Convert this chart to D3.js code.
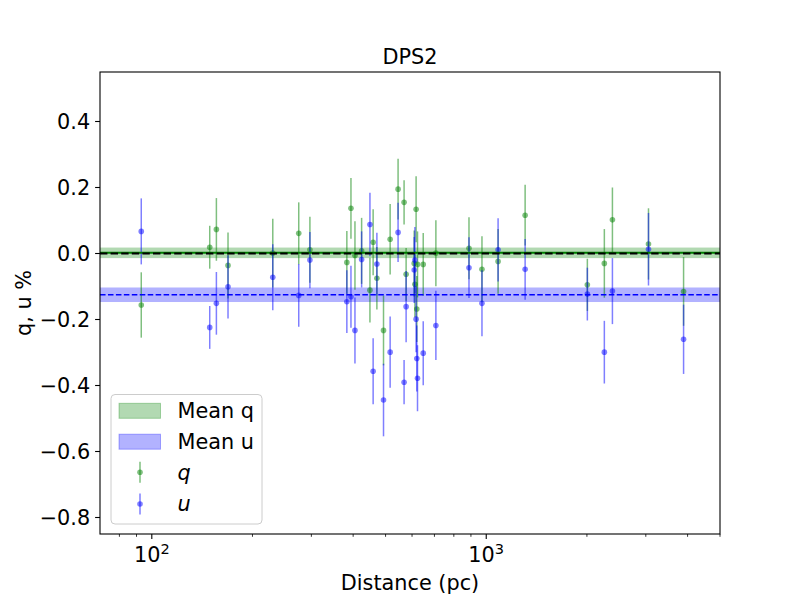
<!DOCTYPE html>
<html>
<head>
<meta charset="utf-8">
<script src="https://cdn.jsdelivr.net/npm/d3@7"></script>
<style>
  html, body { margin: 0; padding: 0; background: #fff; }
  svg text { font-family: "DejaVu Sans", sans-serif; }
</style>
</head>
<body>
<svg id="chart" width="800" height="600"></svg>
<script>
// ---- data ----
const distance = [93, 149, 156, 169, 230, 275, 297, 383, 394, 405, 424, 449, 459, 471, 493, 516, 545, 568, 576,
                  609, 612, 617, 620, 623, 648, 707, 888, 971, 1085, 1307, 2006, 2255, 2384, 3056, 3891];
const qValues = [-0.156, 0.019, 0.073, -0.036, 0.001, 0.061, 0.011, -0.027, 0.137, -0.006, 0.008, -0.111, 0.034, -0.075,
                 -0.233, 0.043, 0.195, 0.155, -0.063, -0.030, -0.093, 0.134, -0.168, -0.033, -0.033, 0.001, 0.016,
                 -0.048, -0.024, 0.116, -0.095, -0.030, 0.102, 0.029, -0.115];
const qErrors = [0.099, 0.065, 0.095, 0.100, 0.104, 0.094, 0.100, 0.095, 0.092, 0.104, 0.100, 0.098, 0.100, 0.095,
                 0.106, 0.107, 0.092, 0.067, 0.080, 0.100, 0.100, 0.100, 0.100, 0.100, 0.095, 0.100, 0.094,
                 0.100, 0.098, 0.092, 0.079, 0.104, 0.098, 0.108, 0.104];
const uValues = [0.067, -0.224, -0.151, -0.101, -0.072, -0.127, -0.020, -0.146, -0.131, -0.233, -0.018, 0.088, -0.357,
                 -0.032, -0.444, -0.299, 0.064, -0.390, -0.161, -0.050, -0.020, -0.199, -0.318, -0.378, -0.302, -0.218,
                 -0.043, -0.151, 0.011, -0.048, -0.123, -0.299, -0.114, 0.013, -0.260];
const uErrors = [0.100, 0.065, 0.095, 0.096, 0.100, 0.095, 0.085, 0.095, 0.094, 0.100, 0.085, 0.096, 0.100, 0.095,
                 0.110, 0.108, 0.090, 0.067, 0.108, 0.100, 0.100, 0.100, 0.100, 0.100, 0.097, 0.105, 0.092,
                 0.100, 0.096, 0.092, 0.080, 0.095, 0.100, 0.110, 0.105];
const meanQ = 0.002, meanQErr = 0.016;
const meanU = -0.125, meanUErr = 0.022;
const yTicks = [-0.8, -0.6, -0.4, -0.2, 0.0, 0.2, 0.4];
const xMajorTicks = [100, 1000];
const xMajorLabels = [["10", "2"], ["10", "3"]];
const xMinorTicks = [80, 90, 200, 300, 400, 500, 600, 700, 800, 900, 2000, 3000, 4000, 5000];
const legendLabels = ["Mean q", "Mean u", "q", "u"];
const titleText = "DPS2";
const xLabelText = "Distance (pc)";
const yLabelText = "q, u %";

// ---- layout ----
const L = 100, R = 720, T = 72, B = 534;
const FS = 20.8;
const svg = d3.select("#chart");
svg.append("rect").attr("width", 800).attr("height", 600).attr("fill", "#fff");

const x = d3.scaleLog().domain([70, 5000]).range([L, R]);
const y = d3.scaleLinear().domain([-0.85, 0.55]).range([B, T]);

const GREEN = "rgb(0,128,0)", BLUE = "rgb(0,0,255)";

const plot = svg.append("g");
plot.append("clipPath").attr("id", "clip").append("rect")
  .attr("x", L).attr("y", T).attr("width", R - L).attr("height", B - T);
const g = plot.append("g").attr("clip-path", "url(#clip)");

// bands
g.append("rect").attr("x", L).attr("width", R - L)
  .attr("y", y(meanQ + meanQErr)).attr("height", y(meanQ - meanQErr) - y(meanQ + meanQErr))
  .attr("fill", GREEN).attr("fill-opacity", 0.3);
g.append("rect").attr("x", L).attr("width", R - L)
  .attr("y", y(meanU + meanUErr)).attr("height", y(meanU - meanUErr) - y(meanU + meanUErr))
  .attr("fill", BLUE).attr("fill-opacity", 0.3);

// error bars
function drawSeries(vals, errs, color) {
  const s = g.append("g");
  distance.forEach((d, i) => {
    s.append("line").attr("x1", x(d)).attr("x2", x(d))
      .attr("y1", y(vals[i] - errs[i])).attr("y2", y(vals[i] + errs[i]))
      .attr("stroke", color).attr("stroke-opacity", 0.5).attr("stroke-width", 1.5);
    s.append("circle").attr("cx", x(d)).attr("cy", y(vals[i])).attr("r", 2.8)
      .attr("fill", color).attr("fill-opacity", 0.5);
  });
}
drawSeries(qValues, qErrors, GREEN);
drawSeries(uValues, uErrors, BLUE);

// mean lines
g.append("line").attr("x1", L).attr("x2", R).attr("y1", y(meanQ)).attr("y2", y(meanQ))
  .attr("stroke", GREEN).attr("stroke-width", 2);
g.append("line").attr("x1", L).attr("x2", R).attr("y1", y(0)).attr("y2", y(0))
  .attr("stroke", "#000").attr("stroke-width", 2).attr("stroke-dasharray", "7.4,3.2");
g.append("line").attr("x1", L).attr("x2", R).attr("y1", y(meanU)).attr("y2", y(meanU))
  .attr("stroke", BLUE).attr("stroke-width", 1.5).attr("stroke-dasharray", "5.55,2.4");

// frame
svg.append("rect").attr("x", L).attr("y", T).attr("width", R - L).attr("height", B - T)
  .attr("fill", "none").attr("stroke", "#000").attr("stroke-width", 1.1);

// y axis
const yAxis = svg.append("g");
yTicks.forEach(t => {
  yAxis.append("line").attr("x1", L - 4.9).attr("x2", L).attr("y1", y(t)).attr("y2", y(t))
    .attr("stroke", "#000").attr("stroke-width", 1.1);
  yAxis.append("text").attr("x", L - 9.8).attr("y", y(t)).attr("dy", "0.36em")
    .attr("text-anchor", "end").attr("font-size", FS)
    .text(d3.format(".1f")(t).replace("-", "\u2212"));
});

// x axis
const xAxis = svg.append("g");
xMajorTicks.forEach((t, i) => {
  xAxis.append("line").attr("x1", x(t)).attr("x2", x(t)).attr("y1", B).attr("y2", B + 4.9)
    .attr("stroke", "#000").attr("stroke-width", 1.1);
  const tx = xAxis.append("text").attr("x", x(t)).attr("y", B + 28).attr("text-anchor", "middle")
    .attr("font-size", FS);
  tx.append("tspan").text(xMajorLabels[i][0]);
  tx.append("tspan").attr("font-size", FS * 0.7).attr("dy", -8).text(xMajorLabels[i][1]);
});
xMinorTicks.forEach(t => {
  xAxis.append("line").attr("x1", x(t)).attr("x2", x(t)).attr("y1", B).attr("y2", B + 2.8)
    .attr("stroke", "#000").attr("stroke-width", 0.8);
});

// labels
svg.append("text").attr("x", (L + R) / 2).attr("y", 64).attr("text-anchor", "middle")
  .attr("font-size", FS).text(titleText);
svg.append("text").attr("x", (L + R) / 2).attr("y", 590).attr("text-anchor", "middle")
  .attr("font-size", FS).text(xLabelText);
svg.append("text").attr("transform", `translate(31,${(T + B) / 2}) rotate(-90)`)
  .attr("text-anchor", "middle").attr("font-size", FS).text(yLabelText);

// legend
const lg = svg.append("g");
lg.append("rect").attr("x", 111).attr("y", 394.5).attr("width", 151).attr("height", 129.5)
  .attr("rx", 4).attr("fill", "#fff").attr("fill-opacity", 0.8)
  .attr("stroke", "#cccccc").attr("stroke-width", 1);
const rows = [410.8, 441.7, 472.3, 504];
[[GREEN], [BLUE]].forEach((c, i) => {
  lg.append("rect").attr("x", 119).attr("y", rows[i] - 7.5).attr("width", 41.5).attr("height", 15)
    .attr("fill", c[0]).attr("fill-opacity", 0.3).attr("stroke", c[0]).attr("stroke-opacity", 0.3);
});
[GREEN, BLUE].forEach((c, j) => {
  const cy = rows[2 + j];
  lg.append("line").attr("x1", 140).attr("x2", 140).attr("y1", cy - 10.5).attr("y2", cy + 10.5)
    .attr("stroke", c).attr("stroke-opacity", 0.5).attr("stroke-width", 1.5);
  lg.append("circle").attr("cx", 140).attr("cy", cy).attr("r", 2.8).attr("fill", c).attr("fill-opacity", 0.5);
});
legendLabels.forEach((t, i) => {
  lg.append("text").attr("x", 177.5).attr("y", rows[i]).attr("dy", "0.36em")
    .attr("font-size", FS).attr("font-style", i >= 2 ? "italic" : "normal").text(t);
});
</script>
</body>
</html>
